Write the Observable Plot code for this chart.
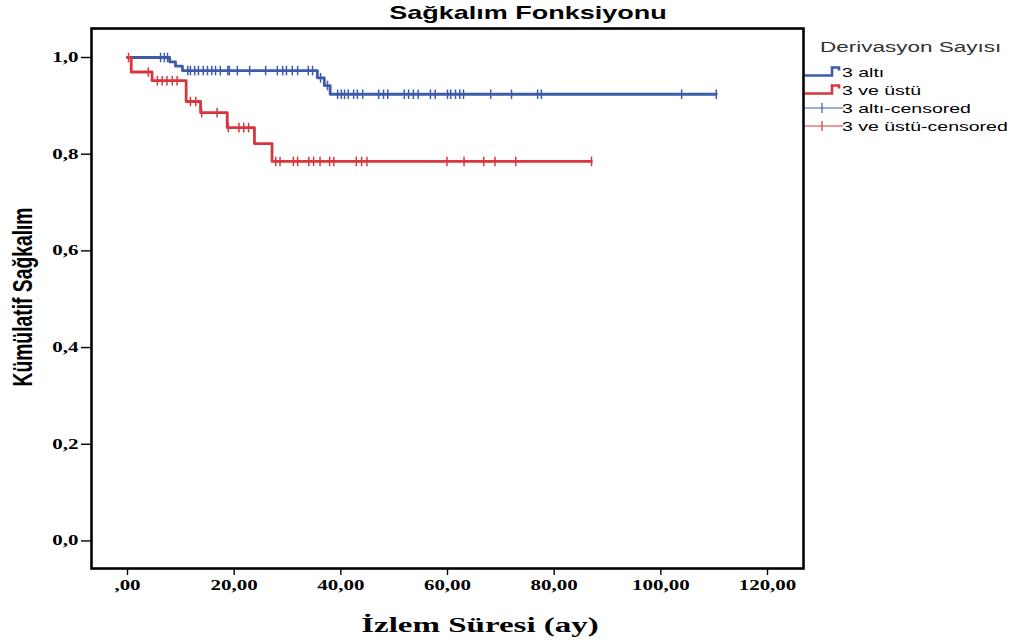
<!DOCTYPE html>
<html><head><meta charset="utf-8">
<script src="https://cdn.jsdelivr.net/npm/d3@7"></script>
<script src="https://cdn.jsdelivr.net/npm/@observablehq/plot@0.6"></script>
<style>
body{margin:0;background:#fff;}
#chart{width:1016px;height:640px;overflow:hidden;}
svg{overflow:visible}
</style>
</head><body><div id="chart"></div>
<script>
// ---- data ----
const seriesNames = ["3 altı", "3 ve üstü"];
const seriesColors = ["#3d5ba8", "#d8363d"];

const blueStepTime = [0, 7.9, 9.0, 10.3, 35.6, 36.9, 38.0, 110.4];
const blueStepSurv = [1.0, 0.991, 0.982, 0.973, 0.958, 0.942, 0.924, 0.924];
const redStepTime = [0, 0.7, 4.6, 11.0, 13.7, 18.7, 23.8, 27.1, 87.0];
const redStepSurv = [1.0, 0.970, 0.952, 0.909, 0.886, 0.855, 0.822, 0.785, 0.785];

const blueCensorTime = [6.2, 6.9, 7.5, 11.3, 11.8, 12.6, 13.3, 14.2, 15.0, 15.8, 16.5, 17.4, 18.8, 19.1, 20.6, 22.9, 25.9, 28.1, 29.1, 29.8, 30.9, 31.9, 33.9, 34.7, 36.2, 37.5, 39.4, 40.1, 40.7, 41.4, 42.4, 43.1, 44.1, 47.1, 48.0, 48.8, 51.9, 52.7, 53.6, 54.5, 56.8, 57.7, 60.0, 60.6, 61.5, 62.3, 63.0, 68.1, 72.0, 76.9, 77.6, 103.9, 110.4];
const redCensorTime = [0.2, 3.9, 5.6, 6.5, 7.4, 8.4, 9.3, 11.8, 12.8, 13.9, 16.8, 18.9, 20.9, 21.8, 22.7, 27.8, 28.6, 31.1, 31.9, 34.0, 34.9, 36.1, 37.9, 38.7, 42.9, 43.9, 44.9, 59.9, 63.1, 66.8, 68.9, 72.8, 87.0];

const xTickValues = [0, 20, 40, 60, 80, 100, 120];
const yTickValues = [0, 0.2, 0.4, 0.6, 0.8, 1.0];

const chartTitle = "Sağkalım Fonksiyonu";
const xTitle = "İzlem Süresi (ay)";
const yTitle = "Kümülatif Sağkalım";
const legendTitle = "Derivasyon Sayısı";
const legendLabels = ["3 altı", "3 ve üstü", "3 altı-censored", "3 ve üstü-censored"];

// ---- tables built from arrays ----
function survAt(times, surv, t) {
  let s = surv[0];
  for (let i = 0; i < times.length; i++) if (times[i] <= t) s = surv[i];
  return s;
}
const stepRows = [
  ...blueStepTime.map((t, i) => ({t, s: blueStepSurv[i], g: seriesNames[0]})),
  ...redStepTime.map((t, i) => ({t, s: redStepSurv[i], g: seriesNames[1]}))
];
const censorRows = [
  ...blueCensorTime.map(t => ({t, s: survAt(blueStepTime, blueStepSurv, t), g: seriesNames[0]})),
  ...redCensorTime.map(t => ({t, s: survAt(redStepTime, redStepSurv, t), g: seriesNames[1]}))
];

const vTick = {draw(ctx, size) { const r = Math.sqrt(size / Math.PI); ctx.moveTo(0, -r); ctx.lineTo(0, r); }};

const fmtY = d => d.toFixed(1).replace(".", ",");
const fmtX = d => d === 0 ? ",00" : d.toFixed(2).replace(".", ",");

const plot = Plot.plot({
  width: 1016, height: 640,
  marginLeft: 91, marginRight: 213, marginTop: 28, marginBottom: 72,
  x: {domain: [-6.75, 126.75], label: null},
  y: {domain: [-0.057, 1.06], label: null},
  color: {domain: seriesNames, range: seriesColors},
  style: {background: "#fff", color: "#000", fontFamily: "'Liberation Serif', serif"},
  marks: [
    Plot.axisY({ticks: yTickValues, tickFormat: fmtY, tickSize: 10, tickPadding: 3, fontSize: 14, fontWeight: "bold", strokeWidth: 1.4}),
    Plot.axisX({ticks: xTickValues, tickFormat: fmtX, tickSize: 7, tickPadding: 5, fontSize: 14, fontWeight: "bold", strokeWidth: 1.4}),
    Plot.line(stepRows, {x: "t", y: "s", z: "g", stroke: "g", curve: "step-after", strokeWidth: 2.8}),
    Plot.dot(censorRows, {x: "t", y: "s", stroke: "g", fill: "none", symbol: vTick, r: 4.8, strokeWidth: 1.5}),
    Plot.frame({stroke: "#000", strokeWidth: 2.6})
  ]
});
document.getElementById("chart").appendChild(plot);

const svg = d3.select(plot);
const K = 1.5;
// stretch tick labels horizontally like the reference
svg.selectAll('g[aria-label="y-axis tick label"] text, g[aria-label="x-axis tick label"] text').each(function() {
  const tr = this.getAttribute("transform") || "";
  const x = parseFloat(this.getAttribute("x")) || 0;
  this.setAttribute("transform", `${tr} translate(${x},0) scale(${K},1) translate(${-x},0)`);
});

// title
svg.append("text").attr("transform", `translate(528,19) scale(${K},1)`)
  .attr("text-anchor", "middle").attr("font-family", "'Liberation Sans', Arial, sans-serif")
  .attr("font-weight", "bold").attr("font-size", 18).attr("fill", "#000").text(chartTitle);
// x title
svg.append("text").attr("transform", `translate(480,632) scale(${K},1)`)
  .attr("text-anchor", "middle").attr("font-family", "'Liberation Serif', serif")
  .attr("font-weight", "bold").attr("font-size", 22).attr("fill", "#000").text(xTitle);
// y title
svg.append("text").attr("transform", `translate(32,297) scale(${K},1) rotate(-90)`)
  .attr("text-anchor", "middle").attr("font-family", "'Liberation Sans', Arial, sans-serif")
  .attr("font-weight", "bold").attr("font-size", 18).attr("textLength", 179).attr("lengthAdjust", "spacingAndGlyphs")
  .attr("fill", "#000").text(yTitle);

// legend
const lg = svg.append("g").attr("text-anchor", "start");
lg.append("text").attr("transform", `translate(820,52) scale(${K},1)`).attr("text-anchor", "start")
  .attr("font-family", "'Liberation Sans', Arial, sans-serif").attr("font-size", 15).attr("fill", "#333").text(legendTitle);
const baselines = [76.5, 94.5, 112.5, 130.5];
legendLabels.forEach((lab, i) => {
  const b = baselines[i];
  const col = seriesColors[i % 2];
  if (i < 2) {
    lg.append("path").attr("d", `M805,${b - 1}H832V${b - 9}H839V${b - 6}`)
      .attr("fill", "none").attr("stroke", col).attr("stroke-width", 2.6);
  } else {
    lg.append("path").attr("d", `M805,${b - 4.5}H843M822,${b - 9.5}V${b + 0.5}`)
      .attr("fill", "none").attr("stroke", col).attr("stroke-width", 1.2);
  }
  lg.append("text").attr("transform", `translate(842,${b}) scale(${K},1)`).attr("text-anchor", "start")
    .attr("font-family", "'Liberation Sans', Arial, sans-serif").attr("font-size", 13).attr("fill", "#000").text(lab);
});
</script>
</body></html>
